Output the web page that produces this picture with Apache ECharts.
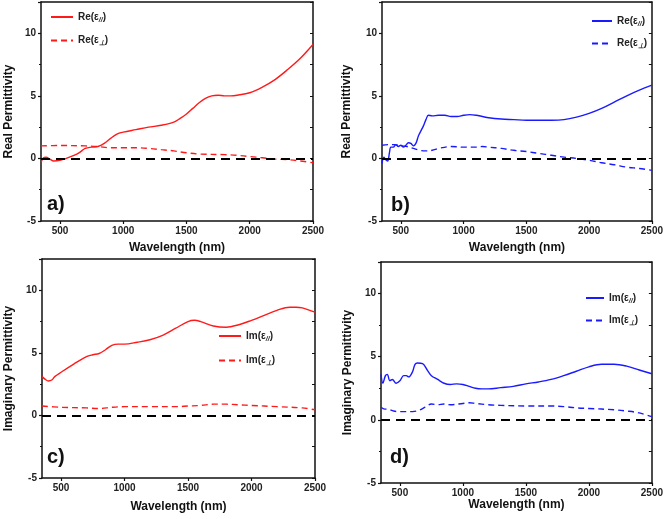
<!DOCTYPE html>
<html>
<head>
<meta charset="utf-8">
<script src="https://cdn.jsdelivr.net/npm/echarts@6/dist/echarts.min.js"></script>
<style>html,body{margin:0;padding:0;background:#fff;}#c{width:666px;height:519px;}</style>
</head>
<body>
<div id="c"></div>
<script>
// ---------- DATA ----------
const xTicks = [500, 1000, 1500, 2000, 2500];
const yTicks = [-5, 0, 5, 10];

// Panel a: Real permittivity (red)
const wlA_par = [350,370,390,420,450,500,550,600,650,700,750,800,850,900,950,1000,1100,1200,1300,1400,1450,1500,1550,1600,1650,1700,1750,1800,1850,1900,2000,2100,2200,2300,2400,2500];
const reA_par = [-0.3,0.05,0.1,-0.05,-0.2,-0.15,0.0,0.2,0.45,0.8,0.9,0.95,1.2,1.6,1.95,2.1,2.3,2.5,2.65,2.9,3.2,3.55,4.0,4.45,4.8,5.0,5.05,5.0,5.0,5.05,5.25,5.7,6.3,7.1,8.0,9.1];
const wlA_perp = [350,500,700,800,900,1000,1100,1200,1300,1400,1500,1600,1800,1900,2000,2100,2200,2300,2400,2500];
const reA_perp = [1.0,1.03,1.0,0.95,0.85,0.85,0.85,0.8,0.7,0.6,0.45,0.35,0.3,0.25,0.15,0.05,-0.05,-0.1,-0.2,-0.35];

// Panel b: Real permittivity (blue)
const wlB_par = [350,365,380,395,410,420,440,460,480,500,520,540,560,580,600,620,640,660,680,700,720,750,800,850,900,950,1000,1050,1100,1150,1200,1300,1400,1500,1600,1700,1800,1900,2000,2100,2200,2300,2400,2500];
const reB_par = [-0.4,0.1,-0.1,-0.2,0.5,0.9,0.9,1.1,0.95,1.05,0.9,1.05,1.25,1.2,1.0,1.2,1.8,2.2,2.6,3.1,3.45,3.4,3.45,3.45,3.35,3.35,3.45,3.5,3.45,3.35,3.25,3.15,3.1,3.05,3.05,3.05,3.1,3.3,3.6,4.0,4.5,5.0,5.45,5.85];
const wlB_perp = [350,400,450,500,550,600,650,700,750,800,900,1000,1100,1150,1200,1300,1400,1500,1600,1700,1800,1900,2000,2100,2200,2300,2400,2500];
const reB_perp = [1.05,1.1,1.1,1.0,0.95,0.8,0.65,0.6,0.65,0.8,0.95,0.9,0.9,0.95,0.9,0.8,0.65,0.55,0.4,0.25,0.1,0.0,-0.15,-0.35,-0.5,-0.7,-0.8,-0.95];

// Panel c: Imaginary permittivity (red)
const wlC_par = [350,380,400,430,450,500,600,700,750,800,850,900,950,1000,1100,1200,1300,1400,1500,1550,1600,1700,1800,1900,2000,2100,2200,2300,2350,2400,2500];
const imC_par = [3.1,2.85,2.75,2.85,3.1,3.45,4.1,4.7,4.85,4.95,5.25,5.6,5.7,5.7,5.85,6.05,6.4,6.95,7.5,7.6,7.5,7.15,7.05,7.25,7.6,8.0,8.4,8.65,8.65,8.6,8.25];
const wlC_perp = [350,500,700,800,900,1000,1200,1400,1500,1600,1700,1800,1900,2000,2200,2400,2500];
const imC_perp = [0.75,0.65,0.6,0.55,0.65,0.7,0.7,0.7,0.75,0.8,0.9,0.9,0.85,0.8,0.7,0.6,0.45];

// Panel d: Imaginary permittivity (blue)
const wlD_par = [350,365,385,400,420,440,470,500,530,550,570,600,620,640,680,720,750,800,850,900,950,1000,1050,1100,1150,1200,1300,1400,1500,1600,1700,1800,1900,2000,2100,2200,2300,2400,2500];
const imD_par = [3.6,2.9,3.5,3.6,3.1,3.2,2.9,3.1,3.5,3.5,3.4,3.8,4.4,4.5,4.45,3.9,3.5,3.2,2.9,2.8,2.85,2.8,2.65,2.5,2.45,2.45,2.55,2.65,2.85,3.0,3.2,3.5,3.85,4.2,4.4,4.4,4.25,3.95,3.65];
const wlD_perp = [350,380,400,450,500,600,650,700,750,800,850,900,1000,1050,1100,1200,1300,1500,1700,1800,1900,2000,2200,2300,2400,2500];
const imD_perp = [1.0,0.85,0.85,0.7,0.65,0.65,0.75,1.0,1.25,1.2,1.25,1.2,1.3,1.35,1.3,1.2,1.15,1.1,1.1,1.05,0.95,0.9,0.8,0.7,0.55,0.25];

const zeroLevel = 0;

// ---------- LAYOUT ----------
const FONT = '"Liberation Sans", Arial, sans-serif';
const RED = '#ff1a1a', BLUE = '#1a1aff';
const panels = [
  {tag:'a)', grid:{left:41, top:2, width:272, height:219}, yName:'Real Permittivity', yGap:26, xGap:21,
   color:RED, par:[wlA_par, reA_par], perp:[wlA_perp, reA_perp], pre:'Re',
   legend:{left:45, top:7, w:22, gap:12}, tagPos:[47, 206]},
  {tag:'b)', grid:{left:382, top:2, width:272, height:219}, yName:'Real Permittivity', yGap:29, xGap:21,
   color:BLUE, par:[wlB_par, reB_par], perp:[wlB_perp, reB_perp], pre:'Re',
   legend:{left:586, top:11, w:20, gap:11}, tagPos:[391, 207]},
  {tag:'c)', grid:{left:42, top:259, width:273, height:219}, yName:'Imaginary Permittivity', yGap:27, xGap:23,
   color:RED, par:[wlC_par, imC_par], perp:[wlC_perp, imC_perp], pre:'Im',
   legend:{left:213, top:326, w:22, gap:13}, tagPos:[47, 459]},
  {tag:'d)', grid:{left:381, top:262, width:273, height:221}, yName:'Imaginary Permittivity', yGap:27, xGap:12,
   color:BLUE, par:[wlD_par, imD_par], perp:[wlD_perp, imD_perp], pre:'Im',
   legend:{left:580, top:288, w:18, gap:11}, tagPos:[390, 459]}
];

const zip = (xs, ys) => xs.map((x, i) => [x, ys[i]]);
const axisLineStyle = {color:'#111', width:1.5};
const grids = [], xAxes = [], yAxes = [], series = [], legends = [], graphics = [];
const labelMap = {};

panels.forEach((p, i) => {
  grids.push(p.grid);
  xAxes.push({type:'value', gridIndex:i, min:350, max:2500, position:'bottom',
    name:'Wavelength (nm)', nameLocation:'middle', nameGap:p.xGap,
    nameTextStyle:{fontFamily:FONT, fontWeight:'bold', fontSize:12, color:'#111'},
    axisLine:{show:true, onZero:false, lineStyle:axisLineStyle},
    axisTick:{show:true, length:3, inside:false, customValues:xTicks, lineStyle:{color:'#111', width:1.2}},
    axisLabel:{customValues:xTicks, fontFamily:FONT, fontWeight:'bold', fontSize:10, color:'#222', margin:5,
      formatter: v => String(v)},
    splitLine:{show:false}});
  xAxes.push({type:'value', gridIndex:i, min:350, max:2500, position:'top',
    axisLine:{show:true, onZero:false, lineStyle:axisLineStyle},
    axisTick:{show:false}, axisLabel:{show:false}, splitLine:{show:false}});
  yAxes.push({type:'value', gridIndex:i, min:-5, max:12.5, interval:5, position:'left',
    name:p.yName, nameLocation:'middle', nameGap:p.yGap, nameRotate:90,
    nameTextStyle:{fontFamily:FONT, fontWeight:'bold', fontSize:12, color:'#111'},
    axisLine:{show:true, onZero:false, lineStyle:axisLineStyle},
    axisTick:{show:true, length:3, lineStyle:{color:'#111', width:1.2}},
    minorTick:{show:true, splitNumber:2, length:2, lineStyle:{color:'#111'}},
    axisLabel:{fontFamily:FONT, fontWeight:'bold', fontSize:10, color:'#222', margin:5,
      formatter: v => (v % 5 === 0 ? String(v) : '')},
    splitLine:{show:false}});
  yAxes.push({type:'value', gridIndex:i, min:-5, max:12.5, interval:5, position:'right',
    axisLine:{show:true, onZero:false, lineStyle:axisLineStyle},
    axisTick:{show:true, inside:true, length:3, lineStyle:{color:'#111'}},
    minorTick:{show:true, splitNumber:2, length:3, lineStyle:{color:'#111'}},
    axisLabel:{show:false}, splitLine:{show:false}});

  const nPar = p.pre + '_par_' + i;
  const nPerp = p.pre + '_perp_' + i;
  labelMap[nPar] = '{t|' + p.pre + '(ε}{s|//}{t|)}';
  labelMap[nPerp] = '{t|' + p.pre + '(ε}{s|⊥}{t|)}';

  series.push({name:nPar, type:'line', xAxisIndex:2*i, yAxisIndex:2*i, data:zip(p.par[0], p.par[1]),
    showSymbol:false, symbol:'none', smooth:0.35, lineStyle:{color:p.color, width:1.4}, itemStyle:{color:p.color},
    markLine:{silent:true, symbol:'none', label:{show:false},
      lineStyle:{color:'#000', type:[9,6], width:2}, data:[{yAxis:zeroLevel}]},
    z:3});
  series.push({name:nPerp, type:'line', xAxisIndex:2*i, yAxisIndex:2*i, data:zip(p.perp[0], p.perp[1]),
    showSymbol:false, symbol:'none', smooth:0.35, lineStyle:{color:p.color, width:1.4, type:[6,4]}, itemStyle:{color:p.color},
    z:3});

  legends.push({data:[nPar, nPerp], orient:'vertical', left:p.legend.left, top:p.legend.top,
    itemWidth:p.legend.w, itemHeight:12, itemGap:p.legend.gap, selectedMode:false,
    itemStyle:{opacity:0, borderWidth:0},
    formatter: name => labelMap[name],
    textStyle:{fontFamily:FONT, fontWeight:'bold', fontSize:10, color:'#222',
      rich:{t:{fontFamily:FONT, fontWeight:'bold', fontSize:10, color:'#222'},
            s:{fontFamily:FONT, fontWeight:'bold', fontStyle:'italic', fontSize:7, color:'#222', padding:[6,0,0,0]}}}});

  graphics.push({type:'text', left:p.tagPos[0], top:p.tagPos[1] - 12,
    style:{text:p.tag, font:'bold 20px ' + FONT, fill:'#111'}});
});

const chart = echarts.init(document.getElementById('c'), null, {renderer:'canvas'});
chart.setOption({
  animation:false,
  backgroundColor:'#fff',
  grid:grids, xAxis:xAxes, yAxis:yAxes, series:series, legend:legends, graphic:graphics
});
</script>
</body>
</html>
